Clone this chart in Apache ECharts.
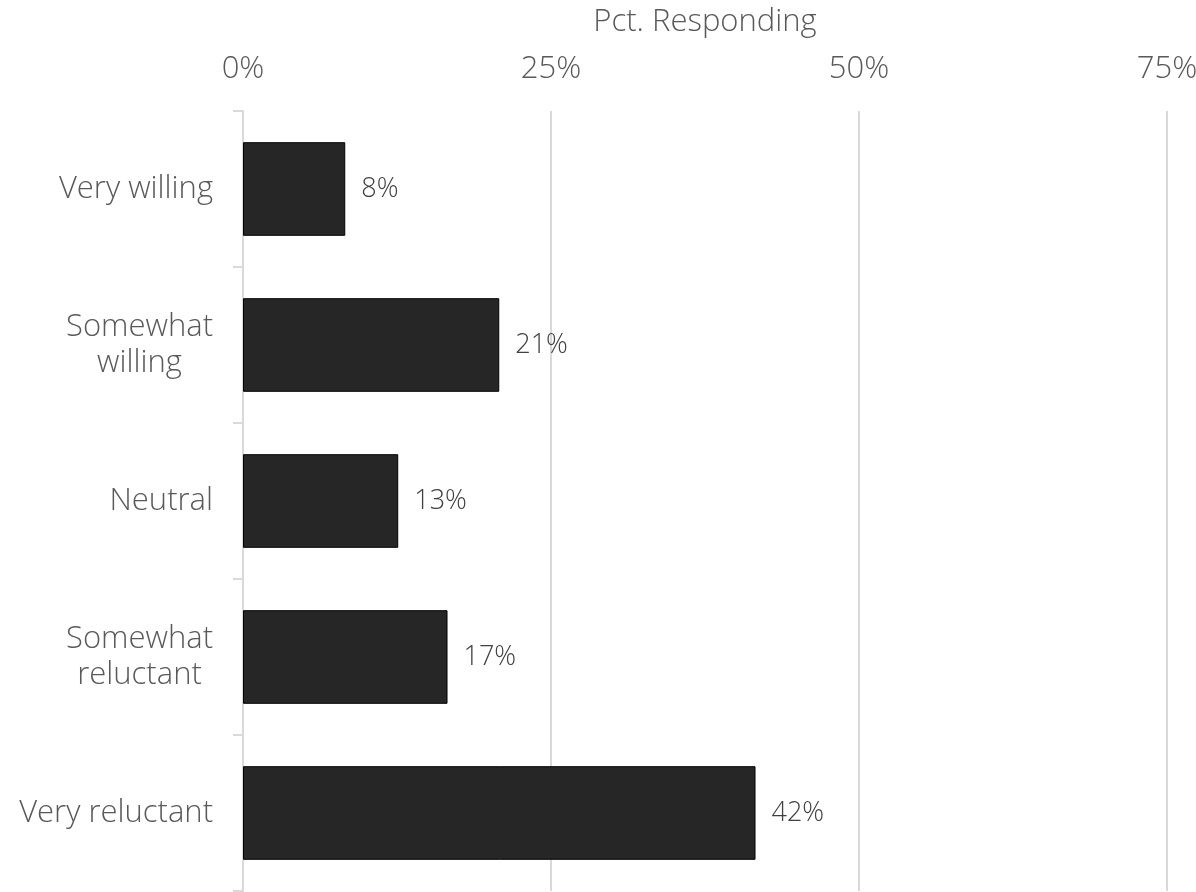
<!DOCTYPE html>
<html>
<head>
<meta charset="utf-8">
<style>
  html, body { margin: 0; padding: 0; background: #ffffff; }
  #chart { width: 1196px; height: 892px; }
</style>
<script src="https://cdn.jsdelivr.net/npm/echarts@6/dist/echarts.min.js"></script>
</head>
<body>
<div id="chart"></div>
<script>
const categories = ['Very willing', 'Somewhat\nwilling', 'Neutral', 'Somewhat\nreluctant', 'Very reluctant'];
const values = [8.3, 20.8, 12.6, 16.6, 41.6];
const xTicks = [0, 25, 50, 75];
const axisTitle = 'Pct. Responding';

const FONT = 'Open Sans';
const W = 300;
const FS = 31;
const chart = echarts.init(document.getElementById('chart'), null, { renderer: 'canvas' });

chart.setOption({
  animation: false,
  backgroundColor: '#ffffff',
  grid: { left: 243, right: 29, top: 111, bottom: 1, containLabel: false, outerBoundsMode: 'none' },
  xAxis: {
    type: 'value',
    position: 'top',
    min: xTicks[0],
    max: xTicks[xTicks.length - 1],
    interval: 25,
    name: axisTitle,
    nameLocation: 'middle',
    nameGap: 73,
    nameTextStyle: { fontFamily: FONT, fontWeight: W, fontSize: FS, color: '#595959' },
    axisLine: { show: false },
    axisTick: { show: false },
    axisLabel: {
      margin: 26,
      fontFamily: FONT, fontWeight: W, fontSize: FS, color: '#595959',
      formatter: v => v + '%'
    },
    splitLine: { show: true, lineStyle: { color: '#d9d9d9', width: 2 } }
  },
  yAxis: {
    type: 'category',
    inverse: true,
    data: categories,
    axisLine: { show: true, lineStyle: { color: '#d9d9d9', width: 2 } },
    axisTick: { show: true, length: 10, lineStyle: { color: '#d9d9d9', width: 2 } },
    axisLabel: {
      margin: 30,
      fontFamily: FONT, fontWeight: W, fontSize: FS, color: '#595959',
      lineHeight: 36,
      formatter: v => v.split('\n').map(s => '{c|' + s + '}').join('\n'),
      rich: { c: { align: 'center', fontFamily: FONT, fontWeight: W, fontSize: FS, color: '#595959', lineHeight: 36 } }
    }
  },
  series: [{
    type: 'bar',
    data: values,
    barCategoryGap: '40%',
    itemStyle: { color: '#262626', borderColor: '#000000', borderWidth: 1 },
    label: {
      show: true,
      position: 'right',
      distance: 16,
      fontFamily: FONT, fontWeight: W, fontSize: 27, color: '#404040',
      formatter: p => Math.round(p.value) + '%'
    }
  }]
});
</script>
</body>
</html>
